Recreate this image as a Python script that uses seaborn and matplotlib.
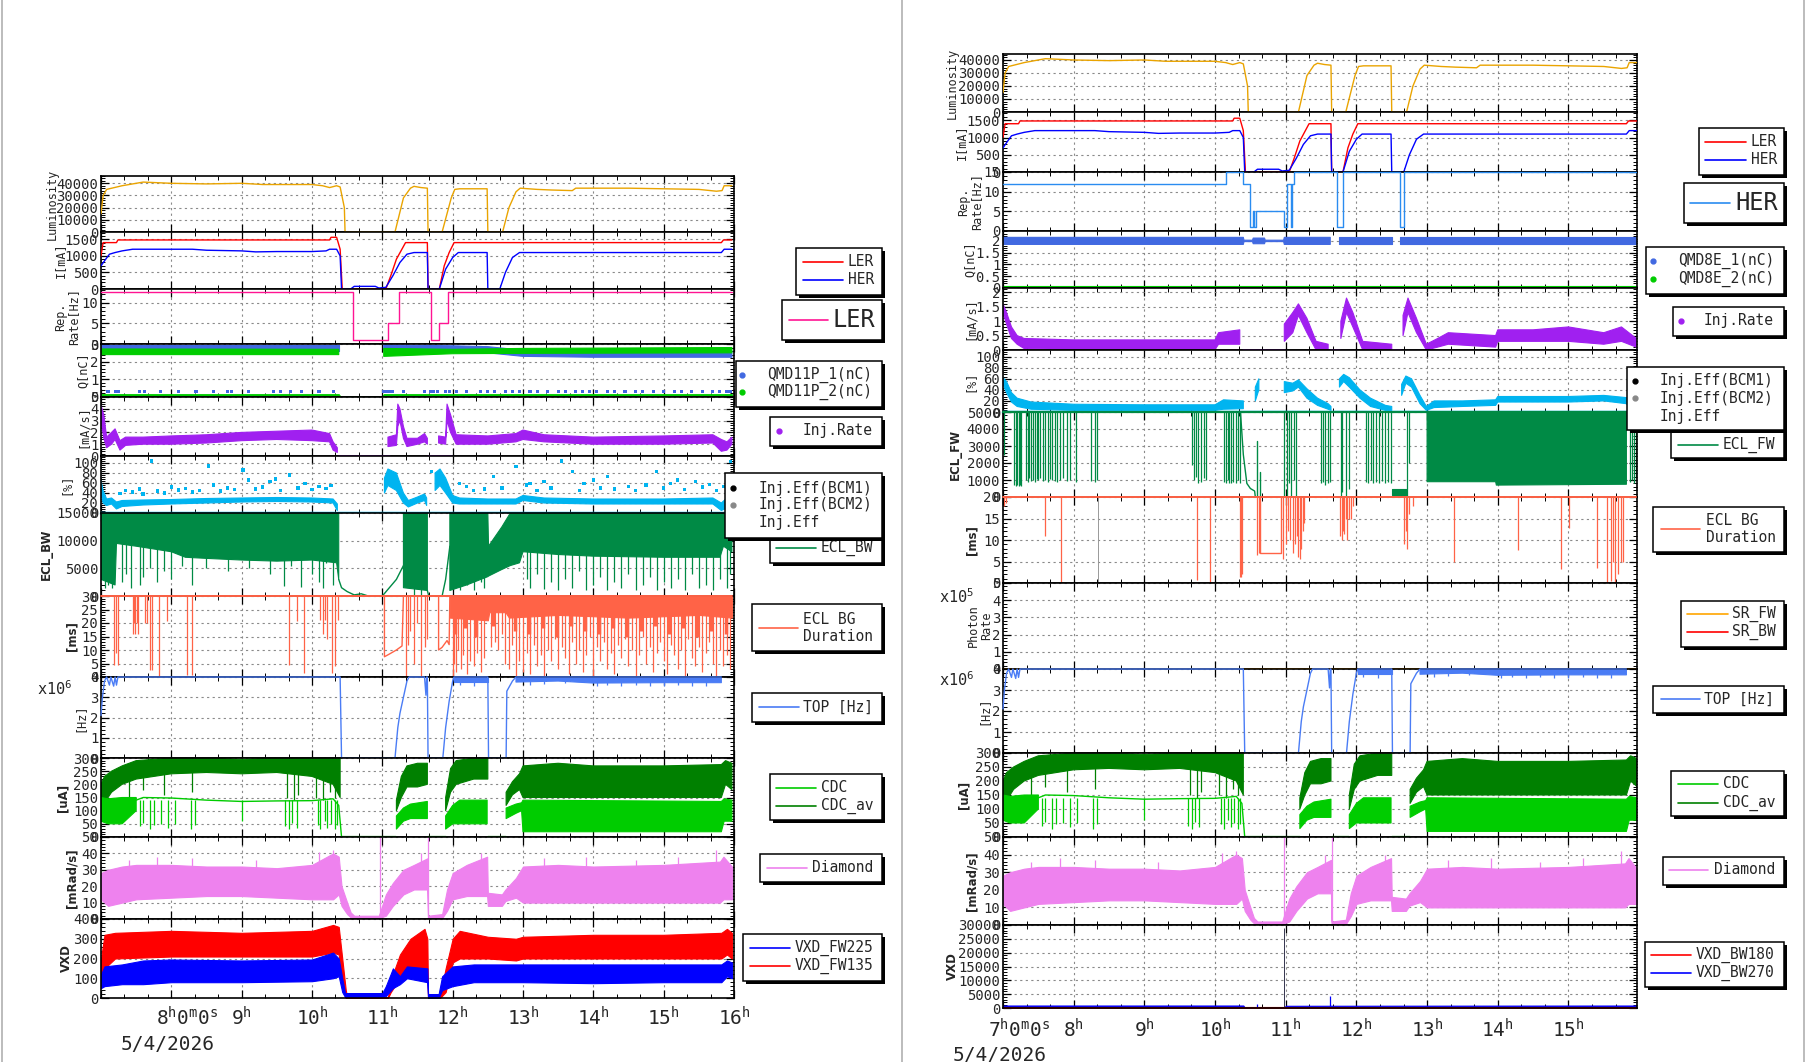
import numpy as np
import pandas as pd
import seaborn as sns
import matplotlib
matplotlib.use('Agg')
import matplotlib.pyplot as plt
from matplotlib.patches import Rectangle
from matplotlib.ticker import MultipleLocator, AutoMinorLocator

W, H = 1806, 1062
nan = np.nan

# ---------------- shared beam data: (hour, value) ----------------
lumi = [(7.0, 15000), (7.03, 30000), (7.08, 35000), (7.3, 38000), (7.6, 41000), (7.8, 40500),
        (8.0, 40000), (8.5, 39500), (9.0, 40000), (9.3, 39000), (9.7, 39000), (10.0, 39000),
        (10.15, 38000), (10.25, 36500), (10.35, 38000), (10.4, 37000), (10.46, 20000), (10.47, 0),
        (11.18, 0), (11.3, 28000), (11.4, 36000), (11.45, 37500), (11.55, 36500), (11.64, 36000),
        (11.65, 0), (11.85, 0), (11.98, 28000), (12.03, 35000), (12.1, 35500), (12.49, 35500),
        (12.5, 0), (12.71, 0), (12.8, 20000), (12.9, 33000), (12.96, 36000), (13.2, 35000),
        (13.4, 34500), (13.7, 34000), (13.75, 36000), (14.0, 36000), (14.5, 36000), (15.0, 35500),
        (15.5, 35000), (15.75, 33500), (15.83, 34000), (15.86, 38000), (15.97, 38000)]
ler_current = [(7.0, 1000), (7.03, 1400), (7.22, 1400), (7.24, 1480), (10.25, 1480), (10.27, 1560),
               (10.35, 1560), (10.4, 1200), (10.43, 0), (11.05, 0), (11.12, 400), (11.2, 900),
               (11.33, 1400), (11.64, 1400), (11.65, 0), (11.81, 0), (11.88, 700), (11.95, 1100),
               (12.02, 1400), (15.82, 1400), (15.85, 1480), (15.97, 1480)]
her_current = [(7.0, 700), (7.05, 850), (7.12, 1050), (7.2, 1100), (7.3, 1150), (7.45, 1200),
               (8.3, 1200), (8.5, 1170), (9.0, 1150), (9.2, 1120), (9.5, 1130), (10.0, 1130),
               (10.2, 1150), (10.25, 1200), (10.35, 1200), (10.4, 1000), (10.42, 0), (10.55, 0),
               (10.6, 80), (10.9, 80), (10.95, 30), (11.05, 50), (11.15, 400), (11.25, 800),
               (11.35, 1050), (11.45, 1100), (11.64, 1100), (11.65, 0), (11.81, 0), (11.9, 600),
               (12.0, 950), (12.08, 1100), (12.49, 1100), (12.5, 0), (12.67, 0), (12.75, 500),
               (12.85, 950), (12.95, 1100), (15.82, 1100), (15.86, 1200), (15.97, 1200)]
top_rate = [(7.0, 2.1), (7.02, 3.0), (7.05, 3.8), (7.08, 4.0), (7.12, 3.6), (7.14, 4.0), (7.18, 3.55),
            (7.2, 4.0), (7.22, 3.6), (7.24, 4.0), (10.4, 4.0), (10.42, 0), (11.18, 0), (11.22, 1.5),
            (11.25, 2.2), (11.3, 3.0), (11.35, 3.8), (11.38, 4.0), (11.6, 4.0), (11.62, 3.1),
            (11.63, 4.0), (11.64, 4.0), (11.65, 0), (11.86, 0), (11.9, 1.5), (11.95, 2.8), (12.0, 3.8),
            (12.02, 4.0), (12.5, 4.0), (12.51, 0), (12.76, 0), (12.77, 3.3), (12.85, 3.8), (12.9, 4.0),
            (15.82, 4.0)]
top_band = [(12.02, 3.75, 4.0), (12.5, 3.75, 4.0), (12.51, nan, nan), (12.9, 3.75, 4.0), (13.5, 3.8, 4.0),
            (14.0, 3.7, 4.0), (15.0, 3.72, 4.0), (15.82, 3.72, 4.0)]
top_dips = [(12.1, 3.6), (12.3, 3.55), (13.1, 3.6), (13.3, 3.65), (13.6, 3.7), (14.05, 3.55), (14.2, 3.6),
            (14.4, 3.55), (14.6, 3.6), (14.8, 3.58), (15.0, 3.55), (15.2, 3.6), (15.4, 3.58), (15.6, 3.55)]
cdc_av_band = [(7.0, 90, 200), (7.05, 130, 230), (7.15, 170, 250), (7.3, 200, 270), (7.5, 220, 290),
               (8.0, 240, 300), (8.5, 245, 300), (9.0, 240, 295), (9.5, 245, 300), (10.0, 230, 300),
               (10.3, 200, 300), (10.4, 150, 300), (10.41, nan, nan), (11.2, 100, 140), (11.27, 150, 230),
               (11.35, 190, 270), (11.5, 190, 280), (11.64, 200, 280), (11.65, nan, nan),
               (11.9, 100, 150), (11.97, 170, 260), (12.05, 200, 290), (12.3, 220, 300), (12.5, 220, 300),
               (12.51, nan, nan), (12.76, 120, 170), (12.85, 160, 210), (12.95, 180, 240),
               (13.0, 150, 270), (13.5, 150, 280), (14.0, 150, 270), (15.0, 150, 270),
               (15.82, 150, 275), (15.88, 200, 290), (15.97, 180, 280)]
cdc_av_spikes = [(7.4, 150), (7.6, 180), (7.9, 160), (8.3, 170), (9.65, 150), (9.75, 140), (9.8, 160),
                 (10.05, 150), (10.15, 140), (10.25, 170), (10.33, 150)]
cdc_band = [(7.0, 60, 150), (7.1, 50, 145), (7.3, 50, 150), (7.5, 100, 150), (7.51, nan, nan),
            (11.2, 30, 80), (11.3, 60, 110), (11.4, 70, 125), (11.64, 70, 135), (11.65, nan, nan),
            (11.9, 30, 80), (12.0, 50, 120), (12.1, 50, 140), (12.49, 50, 140), (12.5, nan, nan),
            (12.76, 70, 110), (12.9, 90, 125), (12.98, 100, 130), (13.0, 20, 140), (15.82, 20, 135),
            (15.86, 60, 145), (15.97, 60, 140)]
cdc_line = [(7.5, 140), (7.6, 150), (8.0, 148), (8.5, 140), (9.0, 135), (9.5, 137), (10.0, 138),
            (10.3, 145), (10.38, 120), (10.42, 0)]
cdc_spikes = [(7.55, 40), (7.6, 55), (7.7, 30), (7.75, 45), (7.85, 50), (7.95, 35), (8.05, 50), (8.28, 30),
              (8.33, 45), (9.0, 60), (9.62, 40), (9.68, 30), (9.72, 55), (9.78, 35), (10.08, 45),
              (10.12, 30), (10.18, 60), (10.22, 35), (10.27, 50), (10.32, 30), (10.36, 45)]
diamond_band = [(7.0, 12, 28), (7.1, 8, 30), (7.3, 10, 32), (7.5, 12, 33), (8.0, 13, 33), (8.5, 14, 32),
                (9.0, 14, 32), (9.5, 13, 31), (10.0, 12, 33), (10.3, 12, 40), (10.38, 15, 38),
                (10.42, 8, 20), (10.5, 3, 10), (10.55, 1, 4), (10.6, 0.5, 2), (10.95, 0.5, 2),
                (11.05, 2, 15), (11.15, 8, 22), (11.3, 15, 30), (11.45, 18, 33), (11.64, 18, 37),
                (11.65, 0.5, 2), (11.85, 0.5, 3), (11.92, 5, 18), (12.0, 12, 28), (12.2, 14, 33),
                (12.49, 14, 38), (12.5, 8, 16), (12.7, 8, 15), (12.75, 11, 18), (12.9, 13, 25),
                (13.0, 10, 32), (13.5, 10, 33), (14.0, 10, 32), (15.0, 10, 33), (15.8, 10, 35),
                (15.85, 12, 38), (15.97, 12, 32)]
diamond_up = [(10.97, 50), (11.65, 50)]
diamond_peaks = [(7.4, 36), (7.8, 38), (8.3, 37), (9.2, 36), (10.1, 41), (10.3, 42), (11.55, 40),
                 (12.4, 40), (13.3, 37), (13.9, 38), (14.6, 36), (15.2, 38), (15.75, 42)]

# ---------------- left column (LER side) ----------------
rep_ler = [(7.0, 12.5), (10.59, 12.5), (10.59, 1), (11.08, 1), (11.08, 5), (11.23, 5), (11.23, 12.5),
           (11.69, 12.5), (11.69, 1), (11.8, 1), (11.8, 5), (11.94, 5), (11.94, 12.5), (15.97, 12.5)]
qmd11_1 = [(7.0, 2.6, 2.95), (10.38, 2.6, 2.95), (10.39, nan, nan), (11.02, 2.65, 2.95), (12.0, 2.6, 2.9),
           (12.5, 2.5, 2.85), (13.0, 2.3, 2.65), (14.0, 2.25, 2.55), (15.97, 2.25, 2.6)]
qmd11_2 = [(7.0, 2.4, 2.72), (10.38, 2.4, 2.7), (10.39, nan, nan), (11.02, 2.3, 2.75), (12.0, 2.45, 2.7),
           (13.0, 2.47, 2.75), (15.97, 2.5, 2.8)]
qmd11_2_low = [(7.0, 0.04, 0.16), (10.38, 0.04, 0.16), (10.4, 0.0, 0.05), (11.0, 0.0, 0.05),
               (11.02, 0.04, 0.16), (15.97, 0.04, 0.16)]
qmd11_1_dots = [7.1, 7.2, 7.25, 7.55, 7.62, 7.85, 8.1, 8.35, 8.6, 8.8, 8.85, 9.1, 9.45, 9.55, 9.7, 9.85,
                10.1, 10.3, 11.02, 11.06, 11.1, 11.15, 11.3, 11.6, 11.68, 11.72, 11.78, 11.9, 11.95,
                12.05, 12.2, 12.4, 12.5, 12.6, 12.75, 12.85, 12.95, 13.1, 13.2, 13.35, 13.5, 13.6,
                13.75, 13.85, 13.95, 14.05, 14.2, 14.3, 14.45, 14.6, 14.7, 14.85, 15.0, 15.15, 15.25,
                15.4, 15.55, 15.7, 15.8, 15.9, 15.95]
inj_rate_l = [(7.0, 3.0, 4.3), (7.04, 1.5, 3.5), (7.08, 0.7, 1.6), (7.15, 1.0, 2.0), (7.2, 1.4, 2.3),
              (7.27, 0.5, 1.3), (7.35, 0.9, 1.6), (7.6, 1.0, 1.6), (8.0, 1.0, 1.7), (8.5, 1.1, 1.8),
              (9.0, 1.3, 2.0), (9.5, 1.4, 2.1), (10.0, 1.3, 2.2), (10.25, 1.2, 1.9), (10.3, 0.5, 1.2),
              (10.36, 0.3, 0.7), (10.37, nan, nan), (11.08, 0.8, 1.6), (11.2, 0.9, 1.8), (11.22, 2.5, 4.4),
              (11.25, 3.0, 4.0), (11.3, 1.5, 2.5), (11.35, 0.8, 1.5), (11.5, 1.0, 1.5), (11.6, 1.2, 1.9),
              (11.64, 1.0, 1.5), (11.65, nan, nan), (11.8, 1.1, 1.7), (11.9, 1.0, 1.6), (11.92, 3.0, 4.4),
              (11.97, 2.0, 3.5), (12.05, 1.0, 1.8), (12.5, 1.0, 1.7), (12.9, 1.2, 1.9), (13.0, 1.4, 2.2),
              (13.3, 1.2, 1.8), (14.0, 1.0, 1.6), (15.0, 1.0, 1.7), (15.7, 1.1, 1.8), (15.82, 0.4, 1.4),
              (15.9, 0.5, 1.2), (15.97, 1.0, 1.6)]
inj_rate_l_zero = [[(10.38, 0), (11.1, 0)], [(11.65, 0), (11.97, 0)]]
inj_eff_l = [(7.0, 40, 65), (7.03, 20, 45), (7.08, 15, 28), (7.15, 18, 30), (7.22, 8, 22), (7.3, 13, 25),
             (7.6, 16, 26), (8.0, 18, 27), (8.5, 20, 29), (9.0, 22, 30), (9.5, 23, 31), (10.0, 22, 30),
             (10.3, 20, 28), (10.36, 5, 18), (10.38, nan, nan), (11.03, 40, 70), (11.08, 55, 88),
             (11.2, 45, 80), (11.3, 20, 40), (11.37, 12, 25), (11.5, 20, 32), (11.6, 25, 38),
             (11.63, 15, 30), (11.64, nan, nan), (11.75, 45, 80), (11.82, 55, 88), (11.9, 40, 70),
             (12.0, 20, 35), (12.1, 18, 30), (12.5, 18, 28), (12.9, 18, 28), (13.0, 25, 35),
             (13.3, 20, 30), (14.0, 18, 28), (15.0, 18, 28), (15.7, 18, 30), (15.82, 5, 20),
             (15.9, 10, 30), (15.97, 20, 35)]
inj_eff_l_dots = [(7.27, 39), (7.35, 45), (7.45, 42), (7.55, 48), (7.6, 38), (7.72, 104), (7.8, 44),
                  (7.9, 40), (8.0, 52), (8.1, 46), (8.2, 49), (8.3, 42), (8.4, 45), (8.53, 94), (8.6, 56),
                  (8.7, 44), (8.8, 50), (8.9, 47), (9.02, 86), (9.1, 66), (9.2, 48), (9.3, 52), (9.4, 63),
                  (9.48, 68), (9.55, 45), (9.68, 76), (9.8, 50), (9.9, 59), (10.0, 47), (10.1, 53),
                  (10.2, 49), (10.27, 55), (11.7, 83), (12.1, 59), (12.2, 53), (12.3, 45), (12.45, 48),
                  (12.58, 73), (12.7, 50), (12.9, 93), (13.05, 56), (13.1, 59), (13.2, 45), (13.3, 63),
                  (13.4, 50), (13.55, 104), (13.7, 83), (13.8, 45), (13.87, 59), (14.0, 66), (14.1, 50),
                  (14.2, 73), (14.3, 48), (14.5, 53), (14.6, 45), (14.75, 56), (14.9, 83), (15.0, 50),
                  (15.1, 59), (15.2, 66), (15.3, 47), (15.45, 63), (15.55, 52), (15.65, 57), (15.75, 45),
                  (15.85, 53), (15.95, 103)]
ecl_bw_band = [(7.0, 3000, 15000), (7.2, 2000, 15000), (7.22, 9500, 15000), (7.5, 9000, 15000),
               (8.0, 8000, 15000), (8.2, 7000, 15000), (8.5, 6800, 15000), (9.0, 6500, 15000),
               (9.5, 6300, 15000), (10.0, 6500, 15000), (10.35, 6000, 15000), (10.38, 3000, 15000),
               (10.4, nan, nan), (11.3, 1500, 15000), (11.64, 1000, 15000), (11.65, nan, nan),
               (11.96, 1000, 15000), (12.2, 2000, 15000), (12.5, 3500, 15000), (12.51, 3600, 9000),
               (12.7, 4800, 12500), (12.82, 5500, 15000), (12.95, 6000, 15000), (13.0, 8000, 15000),
               (13.5, 7500, 15000), (14.0, 7200, 15000), (15.0, 7000, 15000), (15.8, 7000, 15000),
               (15.85, 9000, 15000), (15.97, 8000, 15000)]
ecl_bw_trace = [[(10.38, 3000), (10.42, 1500), (10.5, 800), (10.6, 200), (10.7, 400), (10.8, 0), (11.0, 0),
                 (11.1, 1500), (11.2, 3000), (11.3, 5500)],
                [(11.64, 1000), (11.66, 0), (11.85, 0), (11.9, 3000), (11.96, 9000)]]
ecl_bw_spikes = [(7.05, 1500), (7.1, 2000), (7.15, 1500), (7.3, 2500), (7.35, 4000), (7.42, 1500),
                 (7.55, 2000), (7.6, 3500), (7.7, 5000), (7.8, 2500), (7.9, 4500), (8.0, 3000),
                 (8.15, 5500), (8.3, 2000), (8.5, 5000), (8.8, 4500), (9.1, 5000), (9.4, 4000),
                 (9.6, 1800), (9.7, 5500), (9.85, 1700), (10.0, 4000), (10.1, 2500), (10.15, 1500),
                 (10.2, 6000), (10.3, 2000), (11.45, 0), (11.55, 0), (12.05, 3000), (12.1, 1000),
                 (12.2, 2000), (12.3, 1000), (12.4, 2500), (12.45, 1500), (13.05, 3000), (13.1, 1500),
                 (13.2, 4000), (13.3, 1200), (13.4, 2500), (13.5, 1000), (13.6, 3000), (13.7, 1500),
                 (13.8, 4500), (13.9, 1000), (14.0, 2000), (14.1, 3500), (14.2, 1000), (14.3, 2500),
                 (14.4, 1500), (14.5, 4000), (14.6, 1000), (14.7, 2000), (14.8, 3500), (14.9, 1000),
                 (15.0, 2500), (15.1, 1500), (15.2, 3000), (15.3, 1000), (15.4, 4000), (15.5, 1500),
                 (15.6, 2000), (15.7, 1000), (15.8, 3000), (15.9, 1500), (15.95, 4000)]
ecl_dur_l_band = [(11.96, 22, 30), (12.5, 21, 30), (12.52, 24, 30), (12.75, 24, 30), (12.8, 22, 30),
                  (13.5, 23, 30), (14.5, 22, 30), (15.5, 23, 30), (15.97, 22, 30)]
ecl_dur_l_trace = [[(11.03, 30), (11.03, 7.5), (11.1, 8.5), (11.2, 10), (11.28, 11.5), (11.3, 30)],
                   [(11.8, 30), (11.8, 10), (11.85, 11), (11.92, 13.5), (11.95, 12), (11.96, 30)]]
ecl_dur_l_spikes = [(7.19, 4.5), (7.21, 9), (7.24, 4.5), (7.45, 15.8), (7.47, 20), (7.49, 16), (7.51, 20),
                    (7.53, 15.8), (7.62, 20), (7.66, 20), (7.69, 2.6), (7.73, 2.6), (7.82, 0), (7.94, 20.8),
                    (8.22, 0.8), (8.29, 0.8), (9.68, 4.5), (9.78, 20.8), (9.88, 1.4), (10.11, 21),
                    (10.15, 15.8), (10.18, 21), (10.22, 14), (10.29, 1.4), (10.33, 3.9), (10.37, 21),
                    (11.33, 0), (11.36, 12), (11.4, 17), (11.45, 5), (11.5, 20), (11.55, 0), (11.6, 11),
                    (11.63, 14), (12.0, 0), (12.02, 5), (12.05, 2), (12.08, 10), (12.12, 3), (12.15, 8),
                    (12.2, 1), (12.25, 6), (12.3, 4), (12.35, 9), (12.4, 2), (12.45, 7), (12.55, 11),
                    (12.6, 13), (12.65, 10), (12.7, 16), (12.75, 5), (12.8, 3), (12.85, 12), (12.9, 0),
                    (12.95, 6), (13.0, 2), (13.05, 9), (13.1, 1), (13.15, 12), (13.2, 4), (13.25, 8),
                    (13.3, 0), (13.35, 10), (13.4, 6), (13.45, 14), (13.5, 3), (13.55, 11), (13.6, 7),
                    (13.65, 1), (13.7, 13), (13.75, 5), (13.8, 10), (13.85, 2), (13.9, 8), (13.95, 15),
                    (14.0, 0), (14.05, 11), (14.1, 6), (14.15, 13), (14.2, 3), (14.25, 9), (14.3, 1),
                    (14.35, 12), (14.4, 7), (14.45, 14), (14.5, 4), (14.55, 10), (14.6, 0), (14.65, 8),
                    (14.7, 15), (14.75, 5), (14.8, 11), (14.85, 2), (14.9, 9), (14.95, 13), (15.0, 6),
                    (15.05, 1), (15.1, 12), (15.15, 8), (15.2, 3), (15.25, 10), (15.3, 0), (15.35, 14),
                    (15.4, 7), (15.45, 4), (15.5, 11), (15.55, 2), (15.6, 9), (15.65, 13), (15.7, 5),
                    (15.75, 0), (15.8, 10), (15.85, 4), (15.9, 8), (15.95, 3)]
ecl_dur_l_mid = [(12.03, 16), (12.18, 18), (12.33, 15), (12.58, 19), (12.88, 17), (13.08, 16), (13.28, 18),
                 (13.48, 15), (13.68, 19), (13.88, 17), (14.08, 16), (14.28, 18), (14.48, 15), (14.68, 17),
                 (14.88, 19), (15.08, 16), (15.28, 18), (15.48, 15), (15.68, 17), (15.88, 16)]
vxd_fw135 = [(7.0, 100, 200), (7.05, 150, 320), (7.2, 200, 330), (8.0, 210, 340), (9.0, 210, 330),
             (10.0, 210, 340), (10.3, 230, 370), (10.38, 220, 360), (10.43, 60, 200), (10.48, 0, 40),
             (10.5, 0, 5), (11.08, 0, 5), (11.12, 30, 90), (11.25, 100, 220), (11.4, 150, 300),
             (11.6, 150, 350), (11.64, 100, 300), (11.65, 0, 5), (11.82, 0, 10), (11.9, 30, 150),
             (12.0, 180, 300), (12.1, 200, 340), (12.5, 200, 310), (12.9, 190, 300), (13.0, 200, 310),
             (14.0, 200, 320), (15.0, 200, 320), (15.82, 200, 330), (15.9, 220, 350), (15.97, 200, 330)]
vxd_fw225 = [(7.0, 50, 120), (7.05, 60, 160), (7.3, 70, 170), (7.6, 70, 190), (8.0, 80, 195),
             (9.0, 80, 190), (10.0, 85, 195), (10.3, 100, 230), (10.38, 110, 200), (10.43, 30, 100),
             (10.47, 5, 25), (11.0, 5, 25), (11.05, 10, 60), (11.15, 50, 150), (11.25, 70, 110),
             (11.35, 100, 160), (11.64, 80, 150), (11.65, 0, 20), (11.8, 0, 20), (11.85, 40, 110),
             (12.0, 60, 160), (12.3, 80, 170), (13.0, 80, 170), (14.0, 75, 170), (15.0, 80, 170),
             (15.82, 80, 170), (15.9, 110, 190), (15.97, 100, 180)]

# ---------------- right column (HER side) ----------------
rep_her = [(7.0, 12), (10.16, 12), (10.16, 15), (10.4, 15), (10.4, 12), (10.49, 12), (10.49, 1), (10.53, 1),
           (10.53, 5), (10.55, 5), (10.55, 1), (10.58, 1), (10.58, 5), (10.98, 5), (10.98, 1), (11.02, 1),
           (11.02, 12), (11.07, 12), (11.07, 1), (11.09, 1), (11.09, 12), (11.12, 12), (11.12, 15),
           (11.72, 15), (11.72, 1), (11.81, 1), (11.81, 15), (12.62, 15), (12.62, 1), (12.67, 1),
           (12.67, 15), (15.96, 15)]
qmd8_1 = [(7.0, 1.85, 2.15), (10.4, 1.85, 2.15), (10.41, 1.97, 2.03), (10.53, 1.97, 2.03), (10.54, 1.88, 2.12),
          (10.7, 1.88, 2.12), (10.71, 1.97, 2.03), (10.97, 1.97, 2.03), (10.98, 1.85, 2.15), (11.63, 1.85, 2.15),
          (11.64, nan, nan), (11.76, 1.85, 2.15), (12.5, 1.85, 2.15), (12.51, nan, nan), (12.62, 1.85, 2.15),
          (15.96, 1.85, 2.15)]
qmd8_2 = [(7.0, 0.0, 0.09), (15.96, 0.0, 0.09)]
inj_rate_r = [(7.0, 1.3, 1.6), (7.05, 0.9, 1.3), (7.12, 0.4, 0.8), (7.2, 0.2, 0.5), (7.3, 0.05, 0.4),
              (8.0, 0.02, 0.35), (9.0, 0.02, 0.35), (10.0, 0.02, 0.35), (10.05, 0.2, 0.6), (10.35, 0.2, 0.7),
              (10.4, nan, nan), (10.98, 0.3, 0.9), (11.1, 0.6, 1.3), (11.18, 1.2, 1.6), (11.3, 0.6, 1.1),
              (11.43, 0.0, 0.3), (11.6, 0.0, 0.2), (11.65, nan, nan), (11.78, 0.4, 1.0), (11.86, 1.3, 1.8),
              (11.95, 0.8, 1.3), (12.09, 0.0, 0.3), (12.5, 0.0, 0.2), (12.55, nan, nan), (12.66, 0.5, 1.2),
              (12.73, 1.3, 1.8), (12.85, 0.6, 1.1), (12.99, 0.0, 0.2), (13.15, 0.1, 0.4), (13.3, 0.2, 0.6),
              (13.97, 0.1, 0.5), (14.0, 0.3, 0.7), (14.5, 0.3, 0.7), (15.0, 0.3, 0.8), (15.5, 0.2, 0.6),
              (15.75, 0.3, 0.8), (15.96, 0.1, 0.4)]
inj_rate_r_zero = [[(10.4, 0), (10.98, 0)], [(11.64, 0), (11.76, 0)], [(12.5, 0), (12.62, 0)]]
inj_eff_r = [(7.0, 50, 62), (7.05, 35, 55), (7.12, 18, 35), (7.2, 10, 25), (7.4, 5, 18), (8.0, 3, 14),
             (9.0, 3, 13), (10.0, 3, 13), (10.12, 5, 22), (10.4, 6, 20), (10.42, nan, nan), (10.57, 20, 45),
             (10.62, 40, 60), (10.65, nan, nan), (10.98, 35, 55), (11.1, 38, 52), (11.18, 45, 58),
             (11.3, 25, 42), (11.45, 12, 25), (11.6, 5, 15), (11.64, 3, 10), (11.65, nan, nan),
             (11.76, 45, 60), (11.82, 55, 68), (11.9, 45, 62), (12.05, 25, 40), (12.2, 10, 25),
             (12.41, 3, 12), (12.5, 3, 10), (12.55, nan, nan), (12.64, 30, 50), (12.7, 52, 65),
             (12.78, 45, 60), (12.9, 15, 30), (12.99, 3, 10), (13.1, 8, 20), (13.5, 10, 20),
             (13.97, 12, 22), (14.0, 18, 28), (15.0, 18, 28), (15.5, 20, 30), (15.82, 15, 26),
             (15.9, 5, 18), (15.96, 8, 20)]
ecl_fw_band = [(12.5, 100, 500), (12.7, 100, 500), (12.71, nan, nan), (13.0, 900, 5000), (13.97, 900, 5000),
               (13.98, 700, 5000), (15.82, 750, 5000)]
ecl_fw_trace = [[(10.36, 5000), (10.4, 2500), (10.45, 800), (10.5, 500), (10.56, 350), (10.57, 0), (10.98, 0)],
                [(10.6, 0), (10.6, 3300)], [(10.64, 0), (10.64, 1500)]]
ecl_fw_spikes = [(7.02, 2500), (7.16, 700), (7.18, 650), (7.2, 700), (7.22, 650), (7.24, 700), (7.26, 650),
                 (7.33, 1000), (7.35, 900), (7.37, 1100), (7.4, 950), (7.43, 1000), (7.45, 900), (7.48, 1050),
                 (7.5, 1000), (7.53, 1100), (7.56, 950), (7.6, 1000), (7.63, 900), (7.66, 1050), (7.7, 1000),
                 (7.73, 950), (7.76, 900), (7.8, 1000), (7.85, 1100), (7.9, 950), (7.95, 1000), (8.03, 900),
                 (8.25, 950), (8.3, 900), (8.33, 1000), (9.67, 1900), (9.7, 1000), (9.73, 1200), (9.76, 800),
                 (9.8, 900), (9.84, 1100), (9.87, 1000), (10.12, 900), (10.15, 800), (10.18, 1000),
                 (10.2, 850), (10.23, 800), (10.26, 900), (10.3, 850), (10.33, 1000), (10.36, 800),
                 (10.98, 0), (11.02, 0), (11.05, 800), (11.08, 0), (11.12, 1000), (11.15, 0), (11.5, 800),
                 (11.53, 900), (11.56, 700), (11.6, 800), (11.63, 900), (11.78, 0), (11.8, 300), (11.85, 0),
                 (11.9, 500), (12.13, 900), (12.16, 800), (12.2, 1000), (12.24, 850), (12.28, 900),
                 (12.32, 800), (12.36, 950), (12.4, 850), (12.45, 900), (12.49, 800), (12.72, 0),
                 (12.75, 2000), (15.87, 900), (15.9, 1000), (15.93, 800), (15.96, 1100)]
ecl_dur_r_spikes = [(7.02, 18), (7.04, 18.5), (7.59, 10.9), (7.82, 0), (9.75, 0.8), (9.93, 0), (10.35, 1.4),
                    (10.37, 1.4), (10.38, 2), (10.6, 6.5), (10.62, 7), (10.96, 5.6), (11.0, 9), (11.03, 12),
                    (11.06, 10), (11.1, 7), (11.13, 9), (11.16, 11), (11.18, 6), (11.2, 5.6), (11.22, 8),
                    (11.24, 12), (11.26, 14), (11.77, 11), (11.79, 10), (11.81, 12), (11.83, 11.5),
                    (11.85, 15), (11.87, 10), (11.9, 15), (11.92, 15), (11.95, 18), (12.68, 9), (12.7, 12),
                    (12.72, 8), (12.75, 16), (12.8, 18), (13.38, 5), (14.28, 7.6), (14.9, 3.3), (15.01, 12.7),
                    (15.41, 3.6), (15.55, 0), (15.6, 0.5), (15.63, 5), (15.66, 0), (15.7, 2), (15.74, 5),
                    (15.77, 5), (15.97, 2.2)]
ecl_dur_r_gray = [(8.34, 0)]
ecl_dur_r_trace = [[(10.63, 20), (10.63, 7), (10.94, 7), (10.94, 20)]]
vxd_bw270 = [(7.0, 300, 900), (10.4, 300, 900), (10.42, 0, 150), (10.98, 0, 150), (11.0, 300, 800),
             (15.96, 300, 900)]
vxd_bw180 = [(7.0, 0, 250), (15.96, 0, 250)]
vxd_r_spikes = [(10.6, 1500), (11.63, 4500)]
vxd_r_big = [(10.98, 29000)]

C_LUMI, C_LER, C_HER = '#eaa400', '#ff0000', '#0000ff'
C_REPL, C_REPH = '#ff1493', '#2a8cf0'
C_Q1, C_Q2 = '#4169e1', '#00cc00'
C_RATE, C_EFF = '#a020f0', '#00b4f0'
C_ECL, C_DUR, C_TOP = '#008a45', '#ff6347', '#4a7cf5'
C_CDC, C_CDCAV, C_DIA = '#00cc00', '#008000', '#ee82ee'

sns.set_theme(style='white')
plt.rcParams['font.family'] = ['DejaVu Sans Mono']
plt.rcParams['mathtext.fontset'] = 'custom'
plt.rcParams['mathtext.rm'] = 'DejaVu Sans Mono'
plt.rcParams['mathtext.it'] = 'DejaVu Sans Mono'

fig = plt.figure(figsize=(W / 100, H / 100), dpi=100)
fig.patch.set_facecolor('white')


def make_ax(x0, x1, y0, y1):
    return fig.add_axes([x0 / W, 1 - y1 / H, (x1 - x0) / W, (y1 - y0) / H])


def style(ax, xlim, ylim, yticks, labels=None):
    ax.set_xticks(range(7, 17))
    ax.xaxis.set_minor_locator(MultipleLocator(1 / 3))
    ax.set_yticks(yticks)
    ax.set_yticklabels(labels if labels is not None else [f'{v:g}' for v in yticks])
    ax.yaxis.set_minor_locator(AutoMinorLocator(5))
    ax.set_xlim(xlim)
    ax.set_ylim(ylim)
    ax.tick_params(which='both', direction='in', top=True, right=True, left=True, bottom=True,
                   labelbottom=False, color='black')
    ax.tick_params(which='major', length=6, width=0.9)
    ax.tick_params(which='minor', length=3, width=0.7)
    ax.tick_params(axis='y', labelsize=10, pad=2)
    ax.grid(True, which='major', ls=(0, (2, 3)), color='#8a8a8a', lw=0.8)
    ax.set_axisbelow(True)
    ax.set_xlabel('')
    ax.set_ylabel('')
    for s in ax.spines.values():
        s.set_linewidth(1.2)
        s.set_color('black')


def draw_line(ax, segs, color, lw=1.0, clip=True):
    rows = [(i, t, v) for i, s in enumerate(segs) for t, v in s]
    df = pd.DataFrame(rows, columns=['seg', 't', 'v'])
    n0 = len(ax.lines)
    sns.lineplot(data=df, x='t', y='v', units='seg', estimator=None, sort=False,
                 color=color, lw=lw, ax=ax, legend=False)
    for ln in ax.lines[n0:]:
        ln.set_clip_on(clip)
        ln.set_zorder(3)


def draw_band(ax, rows, color, z=2):
    a = np.array(rows, dtype=float)
    ax.fill_between(a[:, 0], a[:, 1], a[:, 2], color=color, lw=0.8, zorder=z)


def draw_spikes(ax, pairs, top, color, lw=0.9, z=2):
    a = np.array(pairs, dtype=float)
    ax.vlines(a[:, 0], a[:, 1], top, color=color, lw=lw, zorder=z)


LX = (7.0, 16.0)
RX = (7.0, 15.97)
left_edges = [176, 232, 289, 344, 397, 456, 513, 596, 677, 758, 837, 919, 998]
right_edges = [54, 112, 172, 231, 288, 350, 412, 497, 583, 669, 753, 837, 925, 1008]
LX0, LX1, RX0, RX1 = 101, 734, 1003, 1637

la = [make_ax(LX0, LX1, left_edges[i], left_edges[i + 1]) for i in range(12)]
ra = [make_ax(RX0, RX1, right_edges[i], right_edges[i + 1]) for i in range(13)]

for col, axs, xl in ((0, la, LX), (1, ra, RX)):
    ax = axs[0]
    draw_line(ax, [lumi], C_LUMI)
    style(ax, xl, (0, 46000 if col == 0 else 44600), [0, 10000, 20000, 30000, 40000])
    ax = axs[1]
    draw_line(ax, [ler_current], C_LER)
    draw_line(ax, [her_current], C_HER)
    style(ax, xl, (0, 1720 if col == 0 else 1740), [0, 500, 1000, 1500])

# rep rate
draw_line(la[2], [rep_ler], C_REPL, clip=False)
style(la[2], LX, (0, 13.3), [0, 5, 10])
draw_line(ra[2], [rep_her], C_REPH, clip=False)
style(ra[2], RX, (0, 15), [0, 5, 10, 15])

# bunch charge
draw_band(la[3], qmd11_1, C_Q1)
draw_band(la[3], qmd11_2, C_Q2, z=2.1)
draw_band(la[3], qmd11_2_low, C_Q2)
sns.scatterplot(x=qmd11_1_dots, y=[0.33] * len(qmd11_1_dots), ax=la[3], color=C_Q1, s=5,
                marker='s', edgecolor='none', legend=False)
style(la[3], LX, (0, 3), [0, 1, 2, 3])
draw_band(ra[3], qmd8_1, C_Q1)
draw_band(ra[3], qmd8_2, C_Q2)
style(ra[3], RX, (0, 2.42), [0, 0.5, 1, 1.5, 2])

# injection rate
draw_band(la[4], inj_rate_l, C_RATE)
draw_line(la[4], inj_rate_l_zero, C_RATE, lw=2, clip=False)
style(la[4], LX, (0, 5), [0, 1, 2, 3, 4, 5])
draw_band(ra[4], inj_rate_r, C_RATE)
draw_line(ra[4], inj_rate_r_zero, C_RATE, lw=2, clip=False)
style(ra[4], RX, (0, 2.15), [0, 0.5, 1, 1.5, 2])

# injection efficiency
draw_band(la[5], inj_eff_l, C_EFF)
ed = np.array(inj_eff_l_dots)
sns.scatterplot(x=ed[:, 0], y=ed[:, 1], ax=la[5], color=C_EFF, s=6, marker='s',
                edgecolor='none', legend=False)
draw_line(la[5], [[(7.0, 0), (16.0, 0)]], C_EFF, lw=2.5, clip=False)
style(la[5], LX, (0, 114), [0, 20, 40, 60, 80, 100])
draw_band(ra[5], inj_eff_r, C_EFF)
draw_line(ra[5], [[(7.0, 0), (15.96, 0)]], C_EFF, lw=2.5, clip=False)
style(ra[5], RX, (0, 112), [0, 20, 40, 60, 80, 100])

# ECL
draw_band(la[6], ecl_bw_band, C_ECL)
draw_spikes(la[6], ecl_bw_spikes, 15000, C_ECL)
draw_line(la[6], ecl_bw_trace, C_ECL)
style(la[6], LX, (0, 15000), [0, 5000, 10000, 15000])
draw_line(ra[6], [[(7.0, 5000), (15.96, 5000)]], C_ECL, lw=1.6, clip=False)
draw_band(ra[6], ecl_fw_band, C_ECL)
draw_spikes(ra[6], ecl_fw_spikes, 5000, C_ECL)
draw_line(ra[6], ecl_fw_trace, C_ECL)
style(ra[6], RX, (0, 5000), [0, 1000, 2000, 3000, 4000, 5000])

# ECL background duration
draw_line(la[7], [[(7.0, 30), (15.97, 30)]], C_DUR, lw=1.4, clip=False)
draw_band(la[7], ecl_dur_l_band, C_DUR)
draw_spikes(la[7], ecl_dur_l_spikes, 30, C_DUR)
draw_spikes(la[7], ecl_dur_l_mid, 30, C_DUR, lw=2.5)
draw_line(la[7], ecl_dur_l_trace, C_DUR)
style(la[7], LX, (0, 30), [0, 5, 10, 15, 20, 25, 30])
draw_line(ra[7], [[(7.0, 20), (15.96, 20)]], C_DUR, lw=1.4, clip=False)
draw_spikes(ra[7], ecl_dur_r_spikes, 20, C_DUR)
draw_spikes(ra[7], ecl_dur_r_gray, 20, '#999999', lw=0.7)
draw_line(ra[7], ecl_dur_r_trace, C_DUR)
style(ra[7], RX, (0, 20), [0, 5, 10, 15, 20])

# photon rate (right only)
draw_line(ra[8], [[(7.0, 0), (15.96, 0)]], '#ffa500', lw=1.4, clip=False)
style(ra[8], RX, (0, 5), [0, 1, 2, 3, 4, 5])

# TOP, CDC, diamond (same beam data in both columns)
for axs, xl, k in ((la, LX, 8), (ra, RX, 9)):
    ax = axs[k]
    draw_band(ax, top_band, C_TOP)
    draw_spikes(ax, top_dips, 4.0, C_TOP)
    draw_line(ax, [top_rate], C_TOP, clip=False)
    style(ax, xl, (0, 4), [0, 1, 2, 3, 4])
    ax = axs[k + 1]
    draw_band(ax, cdc_av_band, C_CDCAV)
    draw_spikes(ax, cdc_av_spikes, 260, C_CDCAV)
    draw_band(ax, cdc_band, C_CDC, z=2.2)
    draw_line(ax, [cdc_line], C_CDC)
    draw_spikes(ax, cdc_spikes, 140, C_CDC, z=2.3)
    draw_line(ax, [[(10.42, 0), (11.2, 0)], [(11.65, 0), (11.9, 0)], [(12.5, 0), (12.76, 0)]],
              C_CDCAV, lw=1.6, clip=False)
    style(ax, xl, (0, 300), [0, 50, 100, 150, 200, 250, 300])
    ax = axs[k + 2]
    draw_band(ax, diamond_band, C_DIA)
    draw_spikes(ax, diamond_up, 0, C_DIA)
    draw_spikes(ax, diamond_peaks, 25, C_DIA)
    style(ax, xl, (0, 50), [0, 10, 20, 30, 40, 50])

# VXD
draw_band(la[11], vxd_fw135, C_LER)
draw_band(la[11], vxd_fw225, C_HER, z=2.2)
style(la[11], LX, (0, 400), [0, 100, 200, 300, 400])
draw_band(ra[12], vxd_bw270, C_HER)
draw_band(ra[12], vxd_bw180, C_LER, z=2.2)
draw_spikes(ra[12], vxd_r_spikes, 0, C_HER)
draw_spikes(ra[12], vxd_r_big, 0, '#33334d', lw=0.7)
style(ra[12], RX, (0, 30000), [0, 5000, 10000, 15000, 20000, 25000, 30000])

# ---------------- overlay: labels and legend boxes ----------------
ov = fig.add_axes([0, 0, 1, 1], zorder=20)
ov.set_xlim(0, W)
ov.set_ylim(H, 0)
ov.axis('off')
ov.patch.set_visible(False)

for x in (2, 902, 1804):
    ov.plot([x, x], [0, H], color='#b0b0b0', lw=1.2)


def ylab(x, edges, i, text, bold=False, size=8.5):
    yc = (edges[i] + edges[i + 1]) / 2
    if bold:
        ov.text(x, yc, text, rotation=90, ha='center', va='center', fontsize=size,
                family='DejaVu Sans', weight='bold')
    else:
        ov.text(x, yc, text, rotation=90, ha='center', va='center', fontsize=size,
                linespacing=1.0)


for i, (x, t, b) in enumerate([(52, 'Luminosity', False), (60, 'I[mA]', False), (67, 'Rep.\nRate[Hz]', False),
                               (83, 'Q[nC]', False), (83, '[mA/s]', False), (66, '[%]', False),
                               (46, 'ECL_BW', True), (72, '[ms]', True), (80, '[Hz]', False),
                               (63, '[uA]', True), (72, '[mRad/s]', True), (66, 'VXD', True)]):
    ylab(x, left_edges, i, t, b)
for i, (x, t, b) in enumerate([(952, 'Luminosity', False), (961, 'I[mA]', False), (970, 'Rep.\nRate[Hz]', False),
                               (970, 'Q[nC]', False), (970, '[mA/s]', False), (970, '[%]', False),
                               (955, 'ECL_FW', True), (972, '[ms]', True), (980, 'Photon\nRate', False),
                               (984, '[Hz]', False), (964, '[uA]', True), (972, '[mRad/s]', True),
                               (952, 'VXD', True)]):
    ylab(x, right_edges, i, t, b)

ov.text(37, 689, r'x10$^{6}$', fontsize=11, va='center')
ov.text(939, 680, r'x10$^{6}$', fontsize=11, va='center')
ov.text(939, 597, r'x10$^{5}$', fontsize=11, va='center')


def xpix(h, x0, x1, xl):
    return x0 + (h - xl[0]) / (xl[1] - xl[0]) * (x1 - x0)


for h in range(8, 17):
    x = xpix(h, LX0, LX1, LX)
    if h == 8:
        ov.text(x - 15, 1025, r'$8^{h}0^{m}0^{s}$', ha='left', va='baseline', fontsize=14)
    else:
        ov.text(x, 1025, rf'${h}^{{h}}$', ha='center', va='baseline', fontsize=14)
for h in range(7, 16):
    x = xpix(h, RX0, RX1, RX)
    if h == 7:
        ov.text(x - 15, 1037, r'$7^{h}0^{m}0^{s}$', ha='left', va='baseline', fontsize=14)
    else:
        ov.text(x, 1037, rf'${h}^{{h}}$', ha='center', va='baseline', fontsize=14)
ov.text(121, 1050, '5/4/2026', ha='left', va='baseline', fontsize=14)
ov.text(953, 1061, '5/4/2026', ha='left', va='baseline', fontsize=14)

zc = [3]


def legend(box, rows, lx, tx, size=10.5):
    x0, y0, x1, y1 = box
    z = zc[0]
    zc[0] += 3
    ov.add_patch(Rectangle((x0 + 3, y0 + 3), x1 - x0, y1 - y0, facecolor='black', lw=0, zorder=z))
    ov.add_patch(Rectangle((x0, y0), x1 - x0, y1 - y0, facecolor='white', edgecolor='black',
                           lw=1.1, zorder=z + 1))
    for kind, color, label, y in rows:
        if kind == 'line':
            ov.plot([lx[0], lx[1]], [y, y], color=color, lw=1.2, zorder=z + 2)
        elif kind == 'dot':
            ov.plot([lx[0]], [y], 'o', color=color, ms=3.5, zorder=z + 2)
        ov.text(tx, y, label, ha='left', va='center', fontsize=size, zorder=z + 2, linespacing=1.15)


legend((796, 248, 882, 295), [('line', C_LER, 'LER', 262), ('line', C_HER, 'HER', 280)], (803, 843), 848)
legend((782, 300, 882, 340), [('line', C_REPL, 'LER', 320)], (789, 828), 833, size=17)
legend((736, 361, 882, 407), [('dot', C_Q1, 'QMD11P_1(nC)', 375), ('dot', C_Q2, 'QMD11P_2(nC)', 392)],
       (742, 742), 767)
legend((770, 417, 882, 446), [('dot', C_RATE, 'Inj.Rate', 431)], (779, 779), 803)
legend((770, 533, 882, 563), [('line', C_ECL, 'ECL_BW', 548)], (776, 816), 821)
legend((725, 473, 882, 538), [('dot', 'black', 'Inj.Eff(BCM1)', 488), ('dot', '#888888', 'Inj.Eff(BCM2)', 505),
                              ('none', None, 'Inj.Eff', 523)], (733, 733), 759)
legend((752, 604, 882, 651), [('line', C_DUR, 'ECL BG\nDuration', 628)], (759, 798), 803)
legend((752, 693, 882, 722), [('line', C_TOP, 'TOP [Hz]', 707)], (759, 799), 803)
legend((770, 774, 882, 820), [('line', C_CDC, 'CDC', 788), ('line', C_CDCAV, 'CDC_av', 806)], (776, 816), 821)
legend((760, 854, 882, 882), [('line', C_DIA, 'Diamond', 868)], (767, 807), 812)
legend((743, 934, 882, 981), [('line', C_HER, 'VXD_FW225', 948), ('line', C_LER, 'VXD_FW135', 966)],
       (750, 790), 795)

legend((1699, 128, 1784, 175), [('line', C_LER, 'LER', 142), ('line', C_HER, 'HER', 160)], (1705, 1746), 1751)
legend((1684, 183, 1784, 223), [('line', C_REPH, 'HER', 203)], (1690, 1730), 1735, size=17)
legend((1646, 247, 1784, 294), [('dot', C_Q1, 'QMD8E_1(nC)', 261), ('dot', C_Q2, 'QMD8E_2(nC)', 279)],
       (1653, 1653), 1678)
legend((1673, 307, 1784, 336), [('dot', C_RATE, 'Inj.Rate', 321)], (1681, 1681), 1704)
legend((1671, 428, 1784, 458), [('line', C_ECL, 'ECL_FW', 445)], (1678, 1718), 1723)
legend((1627, 367, 1784, 430), [('dot', 'black', 'Inj.Eff(BCM1)', 381), ('dot', '#888888', 'Inj.Eff(BCM2)', 398),
                                ('none', None, 'Inj.Eff', 416)], (1635, 1635), 1660)
legend((1653, 507, 1784, 552), [('line', C_DUR, 'ECL BG\nDuration', 529)], (1661, 1700), 1706)
legend((1681, 601, 1784, 647), [('line', '#ffa500', 'SR_FW', 614), ('line', C_LER, 'SR_BW', 632)],
       (1687, 1728), 1732)
legend((1653, 686, 1784, 713), [('line', C_TOP, 'TOP [Hz]', 699)], (1661, 1700), 1704)
legend((1671, 771, 1784, 816), [('line', C_CDC, 'CDC', 784), ('line', C_CDCAV, 'CDC_av', 803)], (1678, 1718), 1723)
legend((1663, 857, 1784, 885), [('line', C_DIA, 'Diamond', 870)], (1669, 1708), 1714)
legend((1645, 942, 1784, 987), [('line', C_LER, 'VXD_BW180', 955), ('line', C_HER, 'VXD_BW270', 973)],
       (1651, 1691), 1696)

fig.savefig('out.png', dpi=100)
